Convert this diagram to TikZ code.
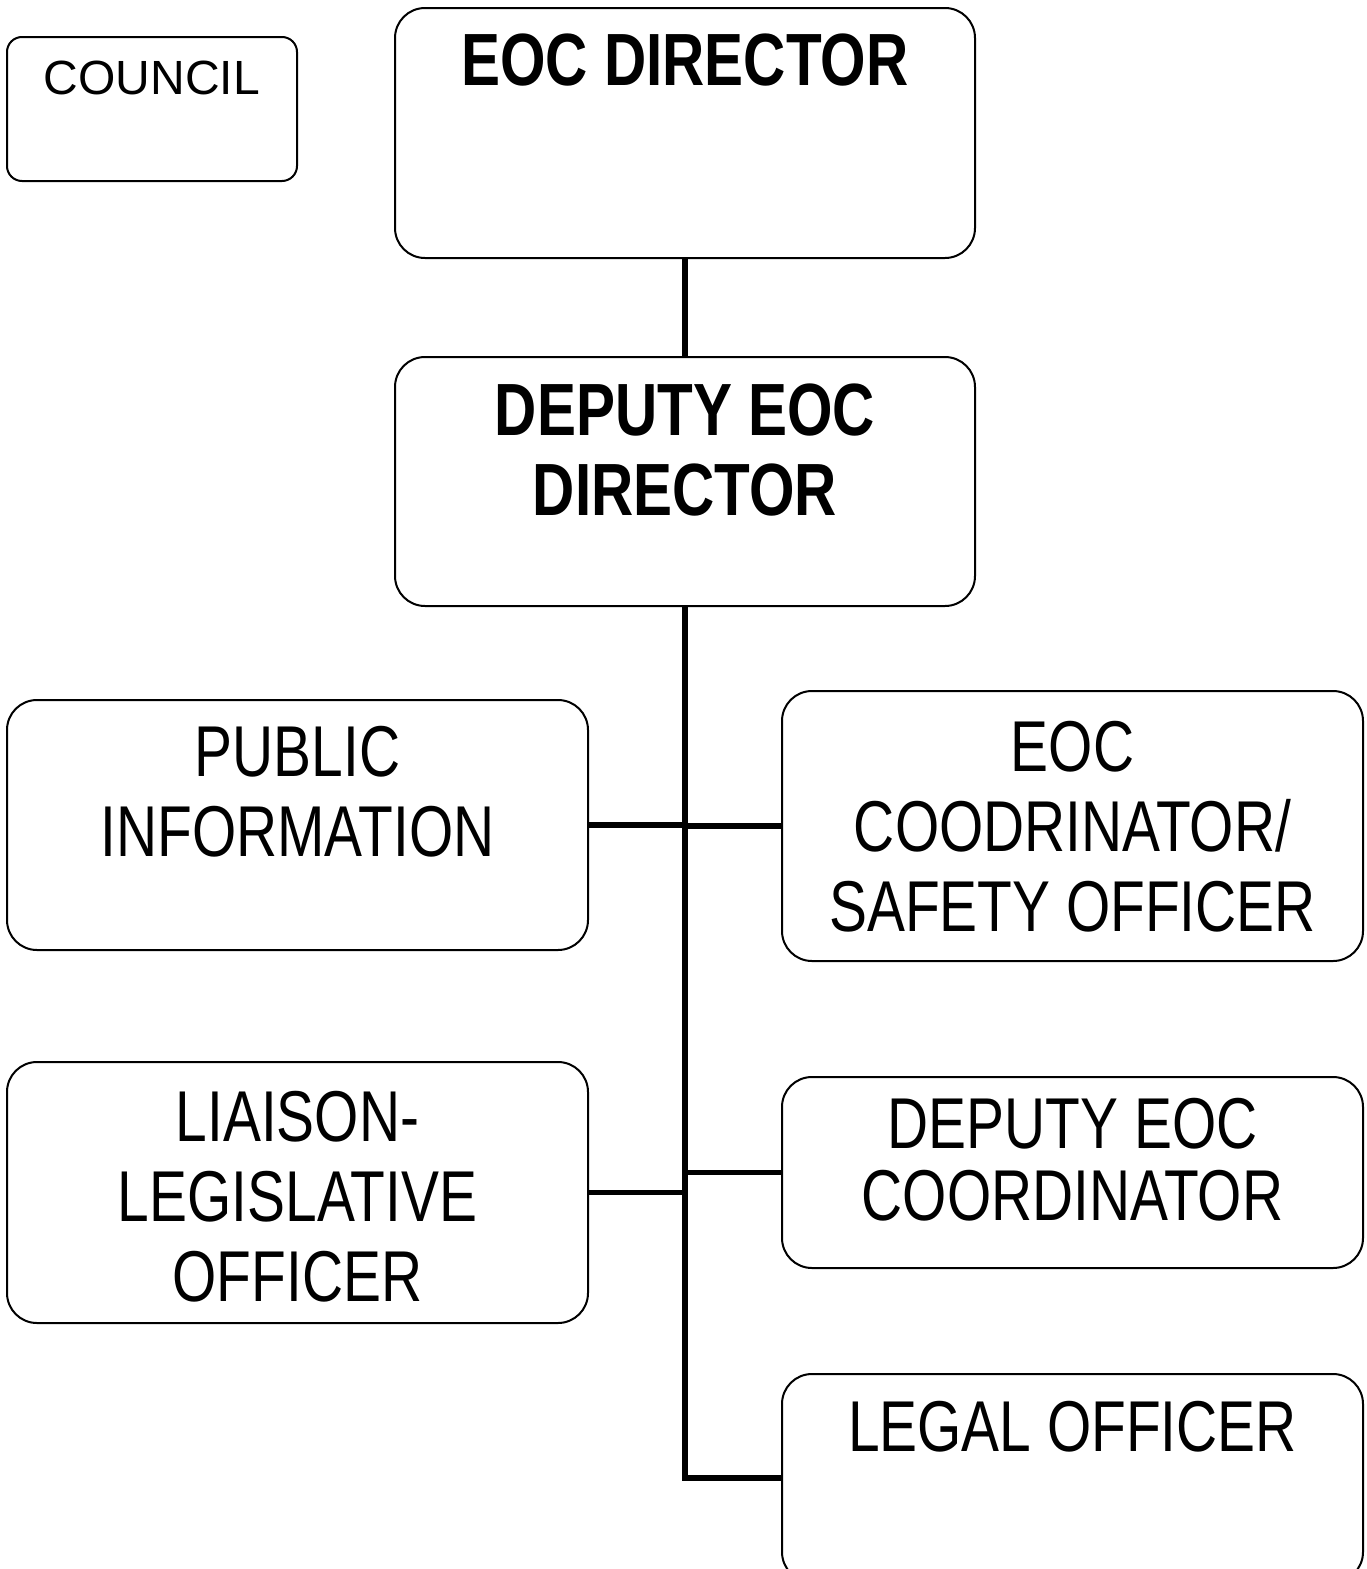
\documentclass[tikz,border=0pt]{standalone}
\usepackage{fontspec}
\setmainfont{Liberation Sans}
\newfontfamily\narrowfont[FakeStretch=0.79]{Liberation Sans}
\usetikzlibrary{calc, positioning}
\def\bw{580pt}
\def\bh{250pt}
\tikzset{
    box/.style = {
        draw, rectangle, rounded corners=30pt, line width=2pt, minimum width=\bw, minimum height=\bh, inner sep=0pt
    },
    boxtext/.style = {
        font=\narrowfont\fontsize{72}{80}\selectfont, align=center, inner sep=0pt
    },
    titletext/.style = {
        font=\narrowfont\bfseries\fontsize{74}{80}\selectfont, align=center, inner sep=0pt
    },
}

\begin{document}
\begin{tikzpicture}[x=1pt, y=-1pt]
        \useasboundingbox (0,0) rectangle (1367,1569);
        % Place the blocks
        \node [box, rounded corners=15pt, minimum width=290pt, minimum height=144pt] (council) at (152,109) {};
        \node [box] (dir) at (685,133) {};
        \node [box, minimum height=249pt] (deputy) at (685,481.5) {};
        \node [box, minimum width=581pt] (public) at (297.5,825) {};
        \node [box, minimum width=581pt, minimum height=270pt] (coord) at (1072.5,826) {};
        \node [box, minimum width=581pt, minimum height=261pt] (liaison) at (297.5,1192.5) {};
        \node [box, minimum width=581pt, minimum height=191pt] (depcoord) at (1072.5,1172.5) {};
        \node [box, minimum width=581pt, minimum height=208pt] (legal) at (1072.5,1478) {};

        % Texts of the blocks
        \node [inner sep=0pt, font=\fontsize{48}{52}\selectfont, below=25pt of council.north] (council-text) {COUNCIL};
        \node [titletext, below=27pt of dir.north] (dir-text) {EOC DIRECTOR};
        \node [titletext, below=28pt of deputy.north] (deputy-text) {DEPUTY EOC\\DIRECTOR};
        \node [boxtext, below=27pt of public.north] (public-text) {PUBLIC\\INFORMATION};
        \node [boxtext, below=31pt of coord.north] (coord-text) {EOC\\COODRINATOR/\\SAFETY OFFICER};
        \node [boxtext, below=30pt of liaison.north] (liaison-text) {LIAISON-\\LEGISLATIVE\\OFFICER};
        \node [boxtext, font=\narrowfont\fontsize{72}{72}\selectfont, below=22pt of depcoord.north] (depcoord-text) {DEPUTY EOC\\COORDINATOR};
        \node [boxtext, below=28pt of legal.north] (legal-text) {LEGAL OFFICER};

        % Draw connections
        \begin{scope}[line width=5.5pt]
            \draw (dir.south) -- (deputy.north);
            \draw (deputy.south) |- (legal.west);
            \draw (public.east) -- (public.east -| deputy.south);
            \draw (deputy.south |- coord.west) -- (coord.west);
            \draw (liaison.east) -- (liaison.east -| deputy.south);
            \draw (deputy.south |- depcoord.west) -- (depcoord.west);
        \end{scope}
    \end{tikzpicture}
\end{document}
